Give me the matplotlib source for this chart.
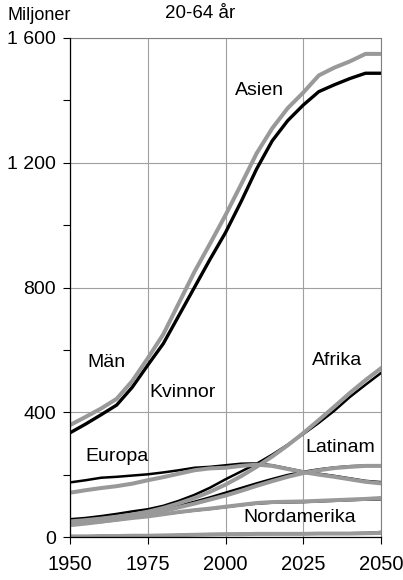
import numpy as np
import matplotlib
matplotlib.use('Agg')
import matplotlib.pyplot as plt
from matplotlib.ticker import FuncFormatter

plt.rcParams['font.family'] = ['Liberation Sans', 'DejaVu Sans']

# Years (5-year steps)
years = list(range(1950, 2051, 5))

# Population aged 20-64, millions. Kvinnor = black, Män = gray
asien_kv = [334, 362, 392, 423, 480, 551, 620, 710, 800, 890, 976, 1075, 1180, 1270, 1335, 1385, 1428, 1450, 1470, 1487, 1487]
asien_man = [359, 385, 412, 443, 500, 573, 650, 750, 850, 940, 1032, 1130, 1230, 1310, 1375, 1425, 1480, 1505, 1525, 1549, 1549]
afrika_kv = [57, 61, 67, 74, 82, 89, 100, 116, 135, 158, 185, 210, 235, 264, 296, 330, 366, 405, 449, 488, 526]
afrika_man = [50, 54, 59, 65, 72, 81, 93, 108, 125, 145, 168, 195, 225, 258, 294, 333, 375, 418, 462, 503, 541]
europa_kv = [175, 182, 190, 193, 197, 201, 207, 214, 222, 225, 230, 235, 236, 230, 220, 210, 203, 196, 188, 180, 176]
europa_man = [142, 150, 157, 163, 171, 182, 192, 203, 214, 220, 222, 228, 232, 228, 218, 208, 200, 193, 185, 177, 172]
latinam_kv = [40, 45, 51, 58, 66, 75, 87, 100, 113, 127, 142, 157, 172, 186, 199, 209, 217, 223, 227, 229, 229]
latinam_man = [38, 43, 49, 56, 64, 72, 83, 95, 107, 120, 133, 148, 164, 179, 193, 205, 214, 221, 225, 228, 228]
nordam_kv = [46, 49, 52, 57, 62, 67, 73, 79, 85, 90, 96, 102, 107, 110, 111, 112, 114, 116, 118, 120, 121]
nordam_man = [44, 47, 50, 55, 61, 66, 73, 80, 86, 91, 97, 103, 109, 112, 113, 114, 116, 118, 120, 122, 125]
oceanien_kv = [2, 2, 3, 3, 4, 4, 5, 6, 8, 9, 9, 10, 10, 10, 11, 11, 11, 11, 12, 13, 16]
oceanien_man = [2, 2, 3, 3, 4, 4, 5, 6, 7, 8, 9, 9, 10, 10, 10, 10, 11, 11, 11, 12, 13]

GRAY = '#999999'

fig = plt.figure(figsize=(4.03, 5.80), dpi=100)
ax = fig.add_axes([70/403, 1-537/580, 311/403, 499/580])

# small regions first, black under gray
for kv, man in [(oceanien_kv, oceanien_man), (nordam_kv, nordam_man), (latinam_kv, latinam_man),
                (europa_kv, europa_man), (afrika_kv, afrika_man)]:
    ax.plot(years, kv, '-', color='k', linewidth=1.8, zorder=3)
    ax.plot(years, man, '-', color=GRAY, linewidth=2.9, zorder=4)

ax.plot(years, asien_kv, '-', color='k', linewidth=2.4, zorder=3)
ax.plot(years, asien_man, '-', color=GRAY, linewidth=2.9, zorder=4)

ax.set_xlim(1950, 2050)
ax.set_ylim(0, 1600)
ax.set_xticks([1950, 1975, 2000, 2025, 2050])
ax.set_yticks([0, 400, 800, 1200, 1600])
ax.set_yticks([200, 600, 1000, 1400], minor=True)
ax.yaxis.set_major_formatter(FuncFormatter(lambda v, p: '{:,.0f}'.format(v).replace(',', ' ')))
ax.tick_params(axis='both', which='both', direction='out', length=5, width=0.8, color='k')
ax.tick_params(axis='y', labelsize=14, pad=5)
ax.tick_params(axis='x', labelsize=14.5, pad=8)

ax.grid(True, which='major', color='#a0a0a0', linewidth=0.8)
ax.set_axisbelow(True)
for s in ['top', 'right']:
    ax.spines[s].set_color('#808080')
    ax.spines[s].set_linewidth(0.8)
for s in ['left', 'bottom']:
    ax.spines[s].set_color('k')
    ax.spines[s].set_linewidth(0.9)
    ax.spines[s].set_zorder(5)

fs = 14
ax.text(2011, 1433, 'Asien', fontsize=fs, ha='center', va='center')
ax.text(1961.6, 558, 'Män', fontsize=fs, ha='center', va='center')
ax.text(1986.3, 463, 'Kvinnor', fontsize=fs, ha='center', va='center')
ax.text(1965, 257, 'Europa', fontsize=fs, ha='center', va='center')
ax.text(2036, 567, 'Afrika', fontsize=fs, ha='center', va='center')
ax.text(2037, 287, 'Latinam', fontsize=fs, ha='center', va='center')
ax.text(2024, 63, 'Nordamerika', fontsize=fs, ha='center', va='center')

fig.text(39/403, 1-15/580, 'Miljoner', fontsize=13, ha='center', va='center')
fig.text(200/403, 1-14/580, '20-64 år', fontsize=13.5, ha='center', va='center')

plt.savefig('out.png', dpi=100)
